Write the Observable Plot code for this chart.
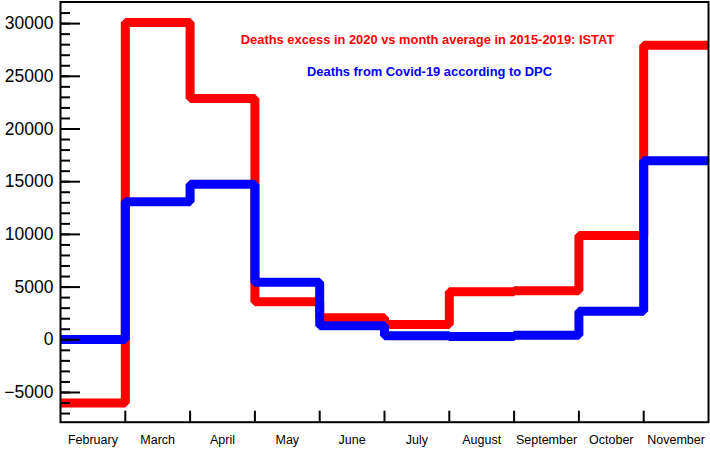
<!DOCTYPE html>
<html>
<head>
<meta charset="utf-8">
<script src="https://cdn.jsdelivr.net/npm/d3@7"></script>
<script src="https://cdn.jsdelivr.net/npm/@observablehq/plot@0.6"></script>
<style>
  html, body { margin: 0; padding: 0; background: #fff; }
  #chart svg { display: block; font-family: "Liberation Sans", Arial, sans-serif; }
</style>
</head>
<body>
<div id="chart"></div>
<script>
// Data
const months = ["February", "March", "April", "May", "June", "July", "August", "September", "October", "November"];
const istatExcess = [-6000, 30100, 22900, 3600, 2100, 1450, 4550, 4650, 9900, 27950];
const dpcDeaths = [20, 13100, 14750, 5450, 1330, 380, 320, 440, 2700, 16980];
const yTickValues = [-5000, 0, 5000, 10000, 15000, 20000, 25000, 30000];
const labelIstat = "Deaths excess in 2020 vs month average in 2015-2019: ISTAT";
const labelDpc = "Deaths from Covid-19 according to DPC";

function steps(values) {
  const out = [];
  values.forEach((v, i) => { out.push({x: i, y: v}); out.push({x: i + 1, y: v}); });
  return out;
}
const minorY = d3.range(-7000, 32000, 1000);
const binEdges = d3.range(1, months.length);
const binCenters = months.map((m, i) => i + 0.5);

const W = 710, H = 449;
const mL = 60, mR = 2, mT = 1.5, mB = 27.3;
const innerW = W - mL - mR, innerH = H - mT - mB;

const chart = Plot.plot({
  width: W,
  height: H,
  marginLeft: mL,
  marginRight: mR,
  marginTop: mT,
  marginBottom: mB,
  style: {fontFamily: "'Liberation Sans', Arial, sans-serif", background: "#fff"},
  x: {domain: [0, months.length], axis: null, label: null},
  y: {domain: [-7820, 32050], axis: null, label: null},
  marks: [
    Plot.line(steps(istatExcess), {x: "x", y: "y", stroke: "#ff0000", strokeWidth: 9, strokeLinejoin: "miter", strokeLinecap: "butt"}),
    Plot.line(steps(dpcDeaths), {x: "x", y: "y", stroke: "#0000ff", strokeWidth: 9, strokeLinejoin: "miter", strokeLinecap: "butt"}),
    // y ticks (inside, ROOT style)
    Plot.tickY(minorY, {y: d => d, stroke: "#000", strokeWidth: 2, strokeOpacity: 1, insetRight: innerW - 10}),
    Plot.tickY(yTickValues, {y: d => d, stroke: "#000", strokeWidth: 2, strokeOpacity: 1, insetRight: innerW - 20}),
    // x ticks at bin edges
    Plot.tickX(binEdges, {x: d => d, stroke: "#000", strokeWidth: 2, strokeOpacity: 1, insetTop: innerH - 11}),
    Plot.axisY({ticks: yTickValues, tickSize: 0, tickPadding: 7, fontSize: 17.5, label: null, tickFormat: d => d < 0 ? "\u2212" + Math.abs(d) : String(d)}),
    Plot.axisX({ticks: binCenters, tickSize: 0, tickPadding: 13, fontSize: 12.5, label: null, tickFormat: d => months[Math.floor(d)]}),
    Plot.frame({stroke: "#000", strokeWidth: 2}),
    Plot.text([labelIstat], {text: d => d, frameAnchor: "top", dx: 43, dy: 38, lineAnchor: "middle", fill: "#ff0000", fontWeight: "bold", fontSize: 12.9}),
    Plot.text([labelDpc], {text: d => d, frameAnchor: "top", dx: 45, dy: 70, lineAnchor: "middle", fill: "#0000ff", fontWeight: "bold", fontSize: 12.9})
  ]
});
document.getElementById("chart").appendChild(chart);
</script>
</body>
</html>
